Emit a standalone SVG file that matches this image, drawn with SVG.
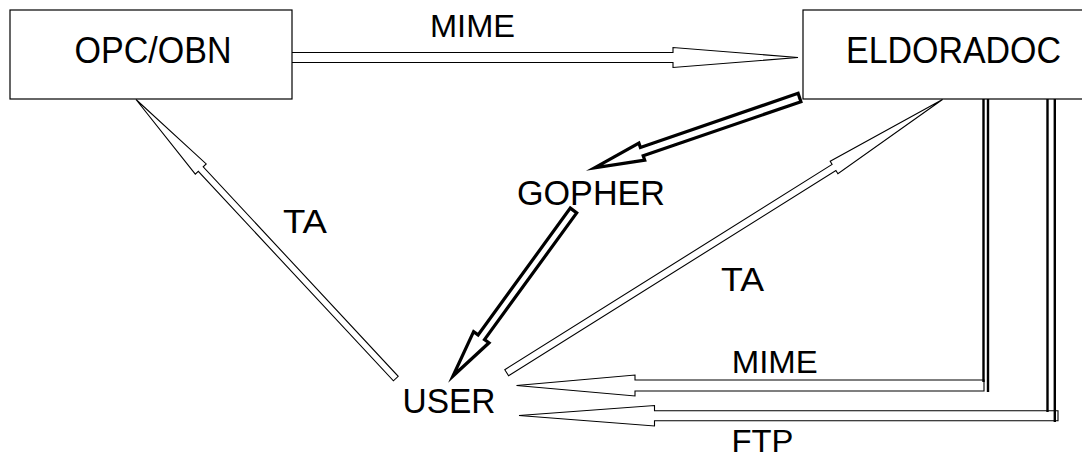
<svg xmlns="http://www.w3.org/2000/svg" width="1082" height="459" viewBox="0 0 1082 459">
<defs>
<style>
.box{fill:#fff;stroke:#000;stroke-width:1.2}
.lbl{font-family:"Liberation Sans",Arial,sans-serif;fill:#000;text-anchor:middle}
.big{font-size:36px}
.mid{font-size:35px}
.ta{font-size:34px}
.sm{font-size:32px}
.thin{fill:#fff;stroke:#000;stroke-width:1.1;stroke-linejoin:miter;stroke-miterlimit:10}
.thick{fill:#fff;stroke:#000;stroke-width:3.2;stroke-linejoin:miter;stroke-miterlimit:10}
.rail{stroke:#000;stroke-width:2.4;fill:none}
</style>
</defs>
<rect width="1082" height="459" fill="#fff"/>
<g id="connectors">
<!-- MIME: OPC/OBN -> ELDORADOC -->
<polygon class="thin" points="289,52.5 673,52.5 673,47.5 798,57.5 673,67.5 673,62.5 289,62.5"/>
<!-- TA: USER -> OPC/OBN -->
<polygon class="thin" points="136,99.5 206.2,163.9 203.2,166.8 398.2,376.3 393.4,380.8 198.3,171.3 195.3,174.1"/>
<!-- TA: USER -> ELDORADOC -->
<polygon class="thin" points="942.5,99.5 837.9,173.7 835.9,170.5 508.6,375.8 504.8,369.7 832.1,164.4 830.2,161.3"/>
<!-- GOPHER: ELDORADOC -> GOPHER -->
<polygon class="thick" points="594.5,167.8 638.9,143.1 640.4,147.4 798.1,93.3 800.9,101.7 643.2,155.8 644.7,160.1"/>
<!-- GOPHER -> USER -->
<polygon class="thick" points="453,376 473.6,331.6 478.1,334.9 570.3,208.1 576.7,212.9 484.5,339.6 489,342.8"/>
<!-- MIME: ELDORADOC -> USER -->
<polygon class="thin" points="516.5,385.5 635,375 635,380 984,380 984,391 635,391 635,396"/>
<line class="rail" x1="983.5" y1="99" x2="983.5" y2="382"/>
<line class="rail" x1="988" y1="99" x2="988" y2="392"/>
<!-- FTP: ELDORADOC -> USER -->
<polygon class="thin" points="519,415.5 654.5,405.5 654.5,410.7 1058,410.7 1058,420.7 654.5,420.7 654.5,426"/>
<line class="rail" x1="1047.5" y1="98" x2="1047.5" y2="412"/>
<line class="rail" x1="1054.8" y1="95" x2="1054.8" y2="422"/>
</g>
<g id="opc-obn">
<rect class="box" x="10" y="10" width="282" height="89"/>
<text class="lbl big" x="153" y="63" textLength="157" lengthAdjust="spacingAndGlyphs">OPC/OBN</text>
</g>
<g id="eldoradoc">
<rect class="box" x="803" y="10" width="300" height="89"/>
<text class="lbl big" x="953.5" y="63" textLength="215" lengthAdjust="spacingAndGlyphs">ELDORADOC</text>
</g>
<g id="gopher">
<text class="lbl mid" x="591" y="205" textLength="148" lengthAdjust="spacingAndGlyphs">GOPHER</text>
</g>
<g id="user">
<text class="lbl mid" x="449" y="413" textLength="93" lengthAdjust="spacingAndGlyphs">USER</text>
</g>
<g id="labels">
<text class="lbl sm" x="472.5" y="37" textLength="85" lengthAdjust="spacingAndGlyphs">MIME</text>
<text class="lbl ta" x="305" y="233" textLength="44" lengthAdjust="spacingAndGlyphs">TA</text>
<text class="lbl ta" x="742.5" y="291" textLength="43" lengthAdjust="spacingAndGlyphs">TA</text>
<text class="lbl sm" x="774.7" y="373" textLength="86" lengthAdjust="spacingAndGlyphs">MIME</text>
<text class="lbl sm" x="762.5" y="452" textLength="62" lengthAdjust="spacingAndGlyphs">FTP</text>
</g>
</svg>
